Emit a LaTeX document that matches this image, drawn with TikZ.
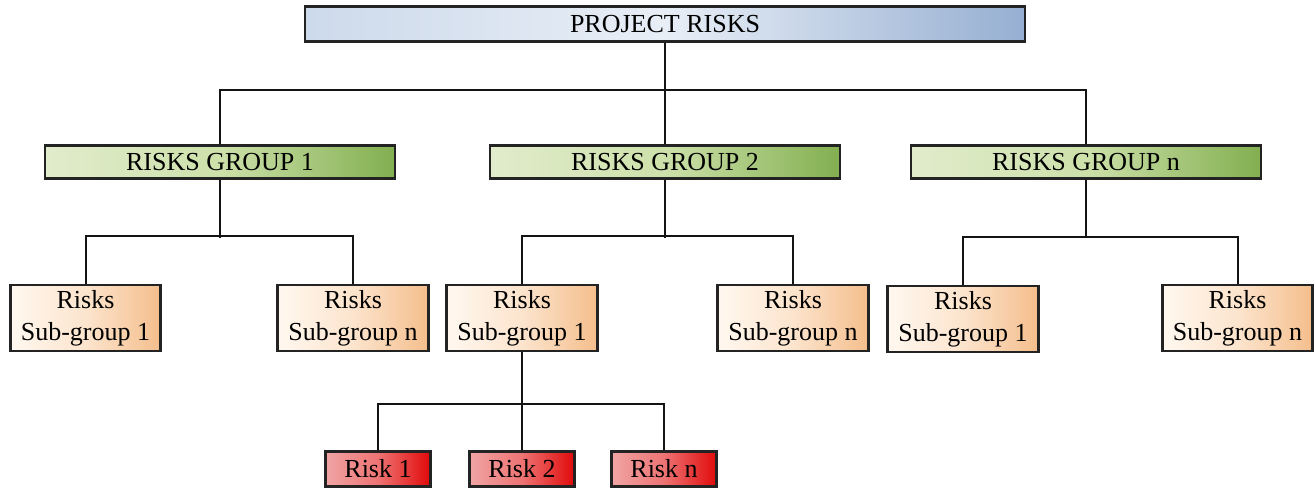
\documentclass[tikz,border=0pt]{standalone}
\usepackage{fontspec}
\setmainfont{Liberation Serif}
\usepackage{tikz}

\begin{document}
\begin{tikzpicture}[x=0.75pt,y=0.75pt,yscale=-1,xscale=1,
  box/.style={draw={rgb,255:red,35;green,35;blue,35},line width=2.2pt,inner sep=0pt,align=center,
    font=\fontsize{19.5}{24}\selectfont},
  topbox/.style={box,minimum width=540pt,minimum height=26.25pt,left color={rgb,255:red,205;green,218;blue,235},right color={rgb,255:red,150;green,175;blue,210},middle color={rgb,255:red,232;green,238;blue,246}},
  groupbox/.style={box,minimum width=262.5pt,minimum height=24.75pt,left color={rgb,255:red,225;green,236;blue,204},right color={rgb,255:red,130;green,175;blue,80},middle color={rgb,255:red,205;green,225;blue,170}},
  subbox/.style={box,minimum width=113pt,minimum height=49.5pt,left color={rgb,255:red,255;green,248;blue,240},right color={rgb,255:red,244;green,190;blue,140},middle color={rgb,255:red,252;green,228;blue,205}},
  riskbox/.style={box,minimum width=79pt,minimum height=26pt,left color={rgb,255:red,240;green,165;blue,165},right color={rgb,255:red,225;green,10;blue,10},middle color={rgb,255:red,238;green,115;blue,115}},
  link/.style={line width=1.5pt,draw={rgb,255:red,20;green,20;blue,20}}]
\useasboundingbox (0,0) rectangle (1314,488);

% Text Node
\draw (665,24) node [topbox] (top) {PROJECT RISKS};
% Text Node
\draw (220,162) node [groupbox] (g1) {RISKS GROUP 1};
% Text Node
\draw (665,162) node [groupbox] (g2) {RISKS GROUP 2};
% Text Node
\draw (1086,162) node [groupbox] (gn) {RISKS GROUP n};

% Text Node
\draw (85.5,318) node [subbox] (s11) {Risks\\Sub-group 1};
% Text Node
\draw (353,318) node [subbox] (s1n) {Risks\\Sub-group n};
% Text Node
\draw (522,318) node [subbox] (s21) {Risks\\Sub-group 1};
% Text Node
\draw (793,318) node [subbox] (s2n) {Risks\\Sub-group n};
% Text Node
\draw (963,319) node [subbox] (s31) {Risks\\Sub-group 1};
% Text Node
\draw (1237.5,318) node [subbox] (s3n) {Risks\\Sub-group n};

% Text Node
\draw (378,469) node [riskbox] (r1) {Risk 1};
% Text Node
\draw (522,469) node [riskbox] (r2) {Risk 2};
% Text Node
\draw (664,469) node [riskbox] (rn) {Risk n};

%Straight Lines
\draw [link] (top.south) -- (g2.north) ;
\draw [link] (g1.north) -- ++(0,-54) -| (gn.north) ;
%Straight Lines
\draw [link] (g1.south) -- ++(0,58) ;
\draw [link] (s11.north) -- ++(0,-48) -| (s1n.north) ;
%Straight Lines
\draw [link] (g2.south) -- ++(0,58) ;
\draw [link] (s21.north) -- ++(0,-48) -| (s2n.north) ;
%Straight Lines
\draw [link] (gn.south) -- ++(0,58) ;
\draw [link] (s31.north) -- ++(0,-48) -| (s3n.north) ;
%Straight Lines
\draw [link] (s21.south) -- (r2.north) ;
\draw [link] (r1.north) -- ++(0,-46) -| (rn.north) ;

\end{tikzpicture}
\end{document}
